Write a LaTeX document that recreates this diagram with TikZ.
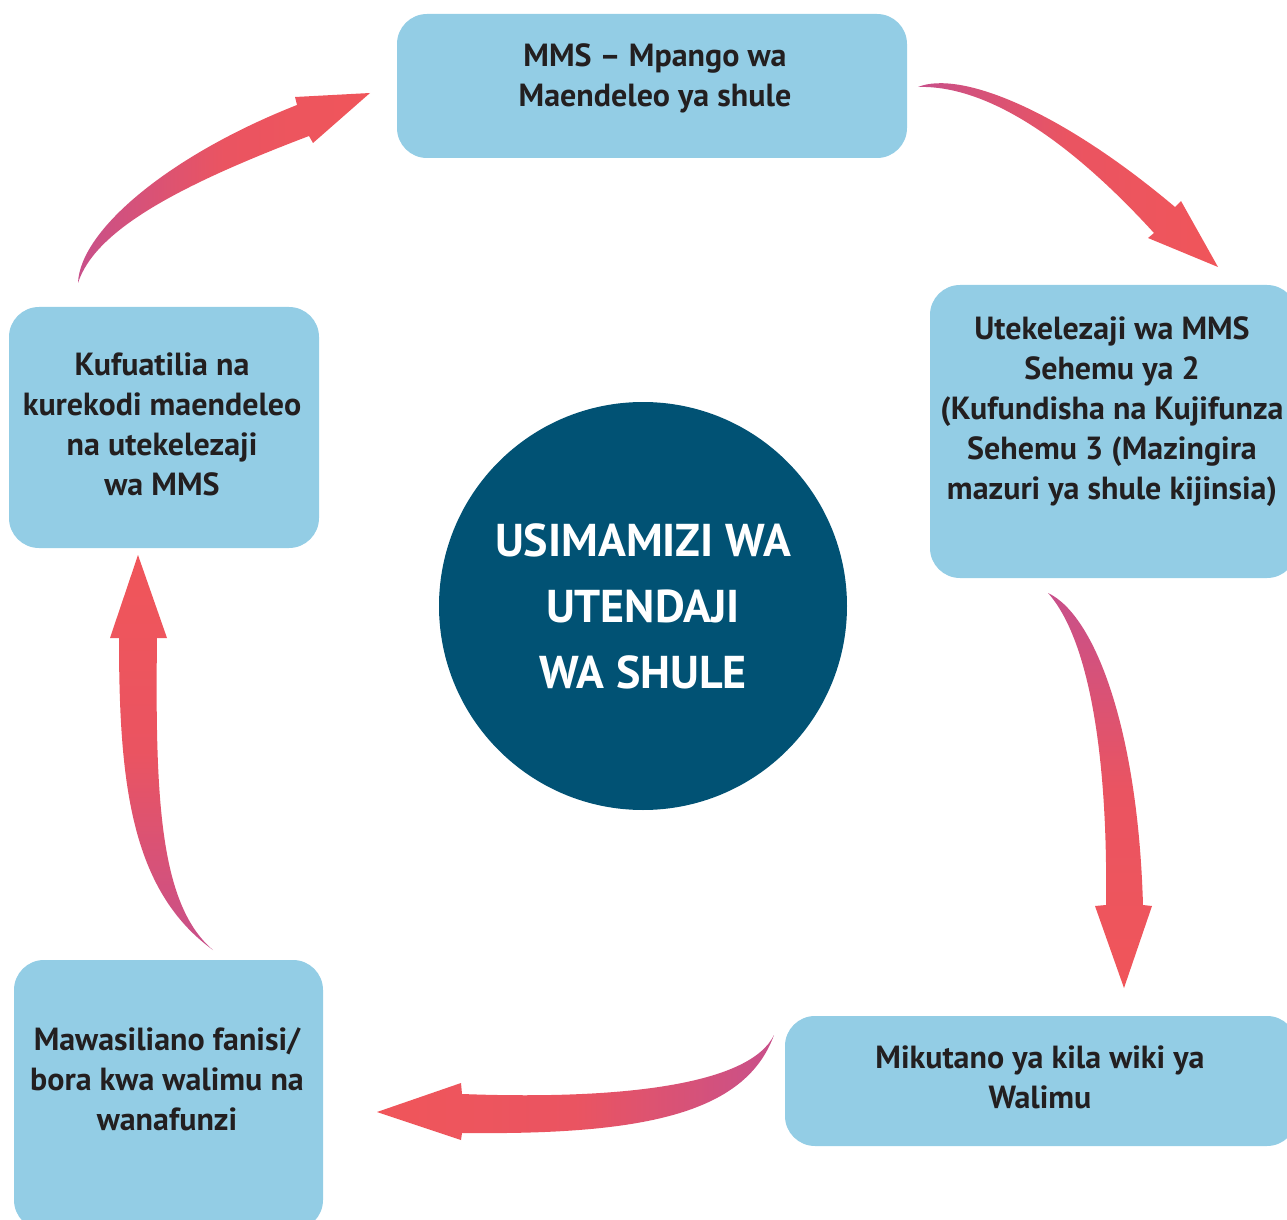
\documentclass[tikz,border=0pt]{standalone}
\usepackage{fontspec}
\setmainfont{PT Sans}
\usetikzlibrary{shapes.geometric}
\definecolor{boxblue}{HTML}{93CDE5}
\definecolor{circblue}{HTML}{015274}
\definecolor{txtdark}{HTML}{231F20}
\definecolor{arrpink}{HTML}{C8508A}
\definecolor{arrred}{HTML}{F0555A}
\tikzset{
  box/.style={fill=boxblue, rounded corners=15pt, inner sep=0pt},
  label/.style={align=center, text=txtdark, font=\bfseries\fontsize{16}{20}\selectfont, inner sep=0pt},
  arrowshape/.style={draw=none}
}
\begin{document}
\begin{tikzpicture}[x=0.5pt,y=-0.5pt]
\useasboundingbox (0,0) rectangle (1287,1220);
\clip (0,0) rectangle (1287,1220);
% boxes
\node[box, minimum width=255pt, minimum height=72pt] (top) at (652,86) {};
\node[box, minimum width=183.5pt, minimum height=146.5pt] (right) at (1113.5,431.5) {};
\node[box, minimum width=155pt, minimum height=120.5pt] (left) at (164,427.5) {};
\node[box, minimum width=154.5pt, minimum height=135pt] (botleft) at (168.5,1095) {};
\node[box, minimum width=256pt, minimum height=65pt] (botright) at (1041,1081) {};
\node[circle, fill=circblue, minimum size=204pt, inner sep=0pt] (hub) at (643,606) {};
% texts
\node[label] (topT) at (655,78) {MMS – Mpango wa\\Maendeleo ya shule};
\node[label] (rightT) at (1112,412) {Utekelezaji wa MMS\\Sehemu ya 2\\(Kufundisha na Kujifunza\\Sehemu 3 (Mazingira\\mazuri ya shule kijinsia)};
\node[label] (leftT) at (162,424) {Kufuatilia na\\kurekodi maendeleo\\na utekelezaji\\wa MMS};
\node[label] (botleftT) at (167,1079) {Mawasiliano fanisi/\\bora kwa walimu na\\wanafunzi};
\node[label] (botrightT) at (1040,1077) {Mikutano ya kila wiki ya\\Walimu};
\node[label, text=white, font=\bfseries\fontsize{23}{33}\selectfont] (hubT) at (643,606) {USIMAMIZI WA\\UTENDAJI\\WA SHULE};
% arrows
% left -> top
\shade[arrowshape, left color=arrpink, right color=arrred, middle color=arrred!85!arrpink]
  (78,283) .. controls (80,230) and (170,155) .. (297,105)
  -- (295,97) -- (370,93) -- (313,143) -- (309,136)
  .. controls (180,185) and (95,230) .. (78,283) -- cycle;
% top -> right
\shade[arrowshape, left color=arrpink, right color=arrred, middle color=arrred!85!arrpink]
  (918,87) .. controls (960,70) and (1060,110) .. (1175,207)
  -- (1181,201) -- (1218,267) -- (1148,238) -- (1154,233)
  .. controls (1060,130) and (980,85) .. (918,87) -- cycle;
% right -> bottom right
\shade[arrowshape, top color=arrpink, bottom color=arrred, middle color=arrred!85!arrpink]
  (1048,593) .. controls (1095,615) and (1138,730) .. (1143,905)
  -- (1152,906) -- (1124,988) -- (1095,906) -- (1106,905)
  .. controls (1108,760) and (1090,640) .. (1048,593) -- cycle;
% bottom right -> bottom left
\shade[arrowshape, right color=arrpink, left color=arrred, middle color=arrred!85!arrpink]
  (774,1035) .. controls (750,1085) and (620,1100) .. (462,1094)
  -- (461,1083) -- (377,1112) -- (461,1140) -- (462,1133)
  .. controls (640,1135) and (745,1115) .. (774,1035) -- cycle;
% bottom left -> left
\shade[arrowshape, bottom color=arrpink, top color=arrred, middle color=arrred!85!arrpink]
  (213,950) .. controls (130,890) and (119,780) .. (119,638)
  -- (110,638) -- (138,555) -- (167,638) -- (157,638)
  .. controls (155,800) and (160,905) .. (213,950) -- cycle;
\end{tikzpicture}
\end{document}
